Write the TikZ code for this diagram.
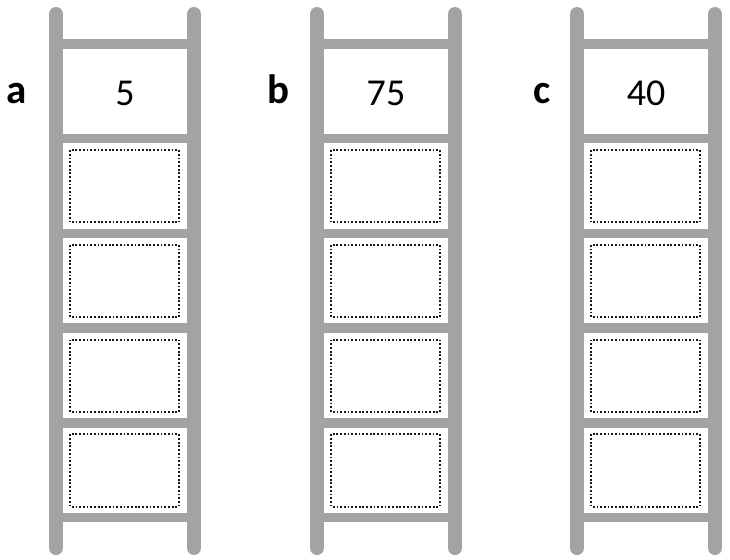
\documentclass[tikz,border=0pt]{standalone}
\usepackage{fontspec}
\setmainfont{Carlito}
\definecolor{railgray}{RGB}{163,163,163}
\begin{document}
\begin{tikzpicture}[x=1pt,y=-1pt,
  rail/.style={line width=14pt, draw=railgray, line cap=round},
  rung/.style={line width=9.5pt, draw=railgray},
  slot/.style={draw=black!90, line width=2pt, line cap=butt, dash pattern=on 1.8pt off 1.9pt},
  lbl/.style={font=\fontsize{41}{44}\selectfont\bfseries, anchor=base},
  num/.style={font=\fontsize{38}{42}\selectfont, anchor=base}]
\useasboundingbox (0,0) rectangle (730,559);
\foreach \L/\name/\val/\lx in {56/a/5/17, 317/b/75/278, 577/c/40/542}{
  \pgfmathsetmacro{\R}{\L+138}
  \pgfmathsetmacro{\C}{\L+69}
  \foreach \k in {0,...,5}{
    \pgfmathsetmacro{\yy}{44+94.7*\k}
    \draw[rung] (\L,\yy) -- (\R,\yy);
  }
  \foreach \k in {1,...,4}{
    \pgfmathsetmacro{\ya}{44+94.7*\k+11.5}
    \pgfmathsetmacro{\yb}{44+94.7*(\k+1)-11}
    \draw[slot] (\L+14,\ya) rectangle (\R-15,\yb);
  }
  \draw[rail] (\L,14) -- (\L,548);
  \draw[rail] (\R,14) -- (\R,548);
  \node[num] (num-\name) at (\C,105.5) {\val};
  \node[lbl] (lbl-\name) at (\lx,104) {\name};
}
\end{tikzpicture}
\end{document}
